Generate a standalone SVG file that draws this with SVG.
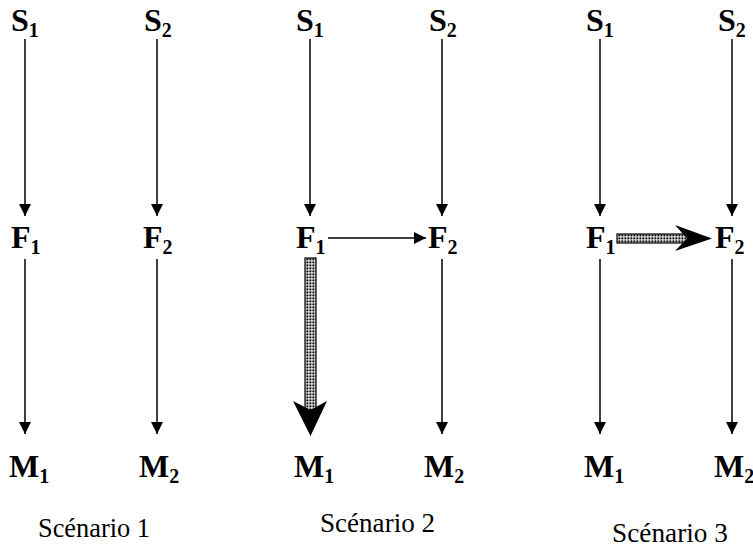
<svg xmlns="http://www.w3.org/2000/svg" width="753" height="550" viewBox="0 0 753 550">
<style>
.lbl{font-weight:bold;font-size:32px;fill:#000}
.sub{font-size:20px}
.cap{font-size:27px;fill:#000}
.ln{stroke:#000;stroke-width:1.5;fill:none;marker-end:url(#ah)}
.thick{fill:url(#dots);stroke:#000;stroke-width:1.2}
</style>
<defs>
<marker id="ah" markerUnits="userSpaceOnUse" markerWidth="12" markerHeight="15" viewBox="0 0 12 15" refX="12" refY="7.5" orient="auto">
<path d="M0,1.5 L12,7.5 L0,13.5 Z" fill="#000"/>
</marker>
<pattern id="dots" patternUnits="userSpaceOnUse" width="3" height="3">
<rect width="3" height="3" fill="#fff"/>
<rect x="0.4" y="0.4" width="2" height="2" fill="#000"/>
</pattern>
</defs>
<rect width="753" height="550" fill="#fff"/>
<g id="connectors">
<line class="ln" x1="25" y1="39" x2="25" y2="216"/>
<line class="ln" x1="157" y1="39" x2="157" y2="216"/>
<line class="ln" x1="310" y1="39" x2="310" y2="216"/>
<line class="ln" x1="442" y1="39" x2="442" y2="216"/>
<line class="ln" x1="600" y1="39" x2="600" y2="216"/>
<line class="ln" x1="732" y1="39" x2="732" y2="216"/>
<line class="ln" x1="25" y1="259" x2="25" y2="434"/>
<line class="ln" x1="157" y1="259" x2="157" y2="434"/>
<line class="ln" x1="442" y1="259" x2="442" y2="434"/>
<line class="ln" x1="600" y1="259" x2="600" y2="434"/>
<line class="ln" x1="732" y1="259" x2="732" y2="434"/>
<line class="ln" x1="328" y1="238" x2="426" y2="238"/>
<g id="thick-down">
<rect class="thick" x="305" y="258" width="11" height="152"/>
<path d="M293,401 L310.5,410 L327,401 L310.5,436 Z" fill="#000"/>
</g>
<g id="thick-right">
<rect class="thick" x="617" y="234" width="72" height="9"/>
<path d="M675,225 L687,238.5 L675,251 L712,238.5 Z" fill="#000"/>
</g>
</g>
<g font-family="Liberation Serif, Times New Roman, serif">
<g id="s1a"><text class="lbl" x="11" y="31">S<tspan class="sub" dy="6">1</tspan></text></g>
<g id="s2a"><text class="lbl" x="144" y="31">S<tspan class="sub" dy="6">2</tspan></text></g>
<g id="f1a"><text class="lbl" x="11" y="248">F<tspan class="sub" dy="6">1</tspan></text></g>
<g id="f2a"><text class="lbl" x="143" y="248">F<tspan class="sub" dy="6">2</tspan></text></g>
<g id="m1a"><text class="lbl" x="9" y="477">M<tspan class="sub" dy="6">1</tspan></text></g>
<g id="m2a"><text class="lbl" x="139" y="477">M<tspan class="sub" dy="6">2</tspan></text></g>
<g id="s1b"><text class="lbl" x="296" y="31">S<tspan class="sub" dy="6">1</tspan></text></g>
<g id="s2b"><text class="lbl" x="429" y="31">S<tspan class="sub" dy="6">2</tspan></text></g>
<g id="f1b"><text class="lbl" x="296" y="248">F<tspan class="sub" dy="6">1</tspan></text></g>
<g id="f2b"><text class="lbl" x="428" y="248">F<tspan class="sub" dy="6">2</tspan></text></g>
<g id="m1b"><text class="lbl" x="294" y="477">M<tspan class="sub" dy="6">1</tspan></text></g>
<g id="m2b"><text class="lbl" x="424" y="477">M<tspan class="sub" dy="6">2</tspan></text></g>
<g id="s1c"><text class="lbl" x="586" y="31">S<tspan class="sub" dy="6">1</tspan></text></g>
<g id="s2c"><text class="lbl" x="718" y="31">S<tspan class="sub" dy="6">2</tspan></text></g>
<g id="f1c"><text class="lbl" x="586" y="248">F<tspan class="sub" dy="6">1</tspan></text></g>
<g id="f2c"><text class="lbl" x="715" y="248">F<tspan class="sub" dy="6">2</tspan></text></g>
<g id="m1c"><text class="lbl" x="584" y="477">M<tspan class="sub" dy="6">1</tspan></text></g>
<g id="m2c"><text class="lbl" x="714" y="477">M<tspan class="sub" dy="6">2</tspan></text></g>
<g id="cap1"><text class="cap" x="38" y="537" textLength="112" lengthAdjust="spacingAndGlyphs">Scénario 1</text></g>
<g id="cap2"><text class="cap" x="320" y="532" textLength="115" lengthAdjust="spacingAndGlyphs">Scénario 2</text></g>
<g id="cap3"><text class="cap" x="612" y="542" textLength="116" lengthAdjust="spacingAndGlyphs">Scénario 3</text></g>
</g>
</svg>
